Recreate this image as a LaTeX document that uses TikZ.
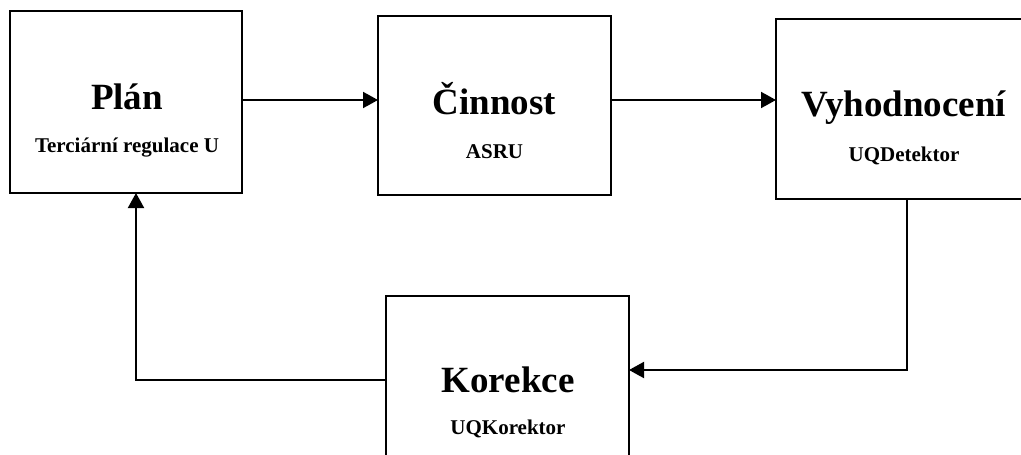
\documentclass[tikz,border=0pt]{standalone}
\usepackage{fontspec}
\setmainfont{Liberation Serif}
\usetikzlibrary{arrows.meta}
\begin{document}
\begin{tikzpicture}[x=1pt,y=-1pt,
  blok/.style={draw=black,line width=2pt,rectangle,anchor=north west,inner sep=0pt,outer sep=0pt},
  titul/.style={anchor=base,inner sep=0pt,font=\fontsize{37}{40}\selectfont\bfseries},
  popis/.style={anchor=base,inner sep=0pt,font=\fontsize{21}{24}\selectfont\bfseries},
  sipka/.style={draw=black,line width=2pt,-{Triangle[length=15pt,width=16pt]}}]
  \useasboundingbox (0,0) rectangle (1021,455);
  % bloky
  \node[blok,minimum width=232pt,minimum height=182pt] (plan) at (10,11) {};
  \node[blok,minimum width=233pt,minimum height=179pt] (cin) at (378,16) {};
  \node[blok,minimum width=256pt,minimum height=180pt] (vyh) at (776,19) {};
  \node[blok,minimum width=243pt,minimum height=185pt] (kor) at (386,296) {};
  % texty
  \node[titul] (tplan) at (127,109) {Plán};
  \node[popis] (pplan) at (127,152) {Terciární regulace U};
  \node[titul] (tcin) at (494.5,114) {Činnost};
  \node[popis] (pcin) at (494.5,158) {ASRU};
  \node[titul] (tvyh) at (904,116) {Vyhodnocení};
  \node[popis] (pvyh) at (904,161) {UQDetektor};
  \node[titul] (tkor) at (508,392) {Korekce};
  \node[popis] (pkor) at (508,434) {UQKorektor};
  % spoje
  \coordinate (horni) at (0,100);
  \coordinate (ohybP) at (907,370);
  \coordinate (ohybL) at (136,380);
  \draw[sipka] (plan.east |- horni) -- (cin.west |- horni);
  \draw[sipka] (cin.east |- horni) -- (vyh.west |- horni);
  \draw[sipka] (vyh.south -| ohybP) -- (ohybP) -- (kor.east |- ohybP);
  \draw[sipka] (kor.west |- ohybL) -- (ohybL) -- (plan.south -| ohybL);
\end{tikzpicture}
\end{document}
